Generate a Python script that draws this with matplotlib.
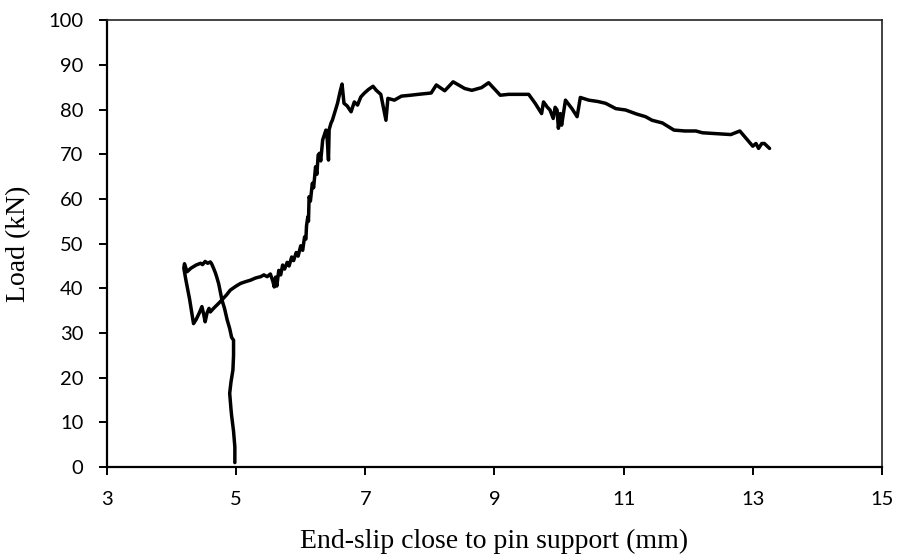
import matplotlib.pyplot as plt

# end-slip (mm) and load (kN)
slip = [
    4.98, 4.98, 4.96, 4.93, 4.92, 4.90, 4.92, 4.95, 4.96, 4.96, 4.93, 4.90,
    4.86, 4.82, 4.78, 4.75, 4.73, 4.70, 4.68, 4.65, 4.62, 4.60, 4.56, 4.52,
    4.48, 4.45, 4.38, 4.30, 4.24, 4.20, 4.19, 4.22, 4.28, 4.34, 4.38, 4.43,
    4.47, 4.50, 4.52, 4.55, 4.58, 4.60, 4.65, 4.72, 4.78, 4.85, 4.91, 5.00,
    5.07, 5.15, 5.22, 5.30, 5.38, 5.43, 5.48, 5.53, 5.57, 5.59, 5.61, 5.63,
    5.66, 5.69, 5.72, 5.75, 5.79, 5.82, 5.86, 5.89, 5.93, 5.96, 6.00, 6.03,
    6.06, 6.08, 6.09, 6.11, 6.12, 6.13, 6.15, 6.18, 6.20, 6.23, 6.25, 6.27,
    6.29, 6.31, 6.34, 6.37, 6.39, 6.41, 6.43, 6.44, 6.47, 6.49, 6.53, 6.57,
    6.61, 6.64, 6.67, 6.72, 6.78, 6.83, 6.88, 6.93, 6.98, 7.05, 7.12, 7.17,
    7.24, 7.28, 7.32, 7.35, 7.45, 7.56, 7.70, 7.82, 8.02, 8.10, 8.23, 8.36,
    8.54, 8.65, 8.80, 8.91, 9.09, 9.22, 9.53, 9.63, 9.73, 9.76, 9.82, 9.86,
    9.91, 9.94, 9.97, 9.99, 10.02, 10.04, 10.10, 10.20, 10.28, 10.33, 10.46,
    10.60, 10.72, 10.88, 11.03, 11.20, 11.34, 11.44, 11.60, 11.78, 11.95,
    12.12, 12.22, 12.45, 12.66, 12.80, 12.90, 13.00, 13.05, 13.09, 13.14,
    13.18, 13.26,
]
load = [
    1.0, 4.5, 8.0, 11.5, 13.0, 16.5, 19.0, 21.7, 25.0, 28.4, 29.0, 31.0,
    33.0, 35.5, 37.4, 39.5, 41.0, 42.5, 43.4, 44.5, 45.5, 45.9, 45.6, 46.0,
    45.3, 45.6, 45.2, 44.5, 43.7, 45.5, 44.5, 42.0, 37.5, 32.1, 33.0, 34.5,
    35.9, 34.0, 32.5, 34.5, 35.5, 34.7, 35.5, 36.5, 37.4, 38.5, 39.6, 40.5,
    41.1, 41.5, 41.8, 42.3, 42.6, 43.0, 42.6, 43.2, 41.5, 40.3, 42.5, 40.5,
    44.0, 43.0, 45.2, 44.3, 45.8, 45.0, 47.0, 46.2, 48.0, 47.2, 49.5, 48.5,
    51.5, 51.0, 54.0, 56.0, 55.0, 60.5, 59.5, 63.5, 62.5, 67.2, 65.5, 69.8,
    70.2, 68.5, 73.2, 74.5, 75.4, 73.5, 68.7, 75.5, 77.0, 77.6, 79.5, 81.4,
    84.0, 85.7, 81.4, 80.8, 79.5, 81.7, 81.0, 82.8, 83.6, 84.5, 85.2, 84.3,
    83.4, 80.5, 77.6, 82.5, 82.1, 83.0, 83.2, 83.4, 83.7, 85.5, 84.2, 86.2,
    84.7, 84.3, 84.9, 86.0, 83.2, 83.4, 83.4, 81.4, 79.1, 81.7, 80.5, 79.9,
    78.0, 80.5, 79.9, 75.8, 79.1, 76.5, 82.1, 80.2, 78.4, 82.7, 82.1,
    81.8, 81.4, 80.2, 79.9, 79.0, 78.4, 77.6, 77.0, 75.4, 75.2,
    75.2, 74.8, 74.6, 74.4, 75.2, 73.5, 71.8, 72.4, 71.3, 72.4,
    72.4, 71.3,
]

x_ticks = [3, 5, 7, 9, 11, 13, 15]
y_ticks = [0, 10, 20, 30, 40, 50, 60, 70, 80, 90, 100]

fig = plt.figure(figsize=(8.99, 5.60), dpi=100)
ax = fig.add_axes([0.119, 0.166, 0.862, 0.798])

ax.plot(slip, load, color="black", linewidth=2.5,
        solid_joinstyle="round", solid_capstyle="round")

ax.set_xlim(3, 15)
ax.set_ylim(0, 100)
ax.set_xticks(x_ticks)
ax.set_yticks(y_ticks)

for side in ["left", "bottom"]:
    ax.spines[side].set_linewidth(1.6)
for side in ["top", "right"]:
    ax.spines[side].set_linewidth(1.2)
    ax.spines[side].set_color("#222222")

ax.tick_params(direction="out", length=6, width=1.4, labelsize=14.5)
ax.tick_params(axis="x", pad=11)
ax.tick_params(axis="y", pad=11)
for lab in ax.get_xticklabels() + ax.get_yticklabels():
    lab.set_family("Lato")

ax.set_xlabel("End-slip close to pin support (mm)", family="Liberation Serif",
              fontsize=20, labelpad=15)
ax.set_ylabel("Load (kN)", family="Liberation Serif", fontsize=20, labelpad=12)

fig.savefig("out.png", dpi=100)
